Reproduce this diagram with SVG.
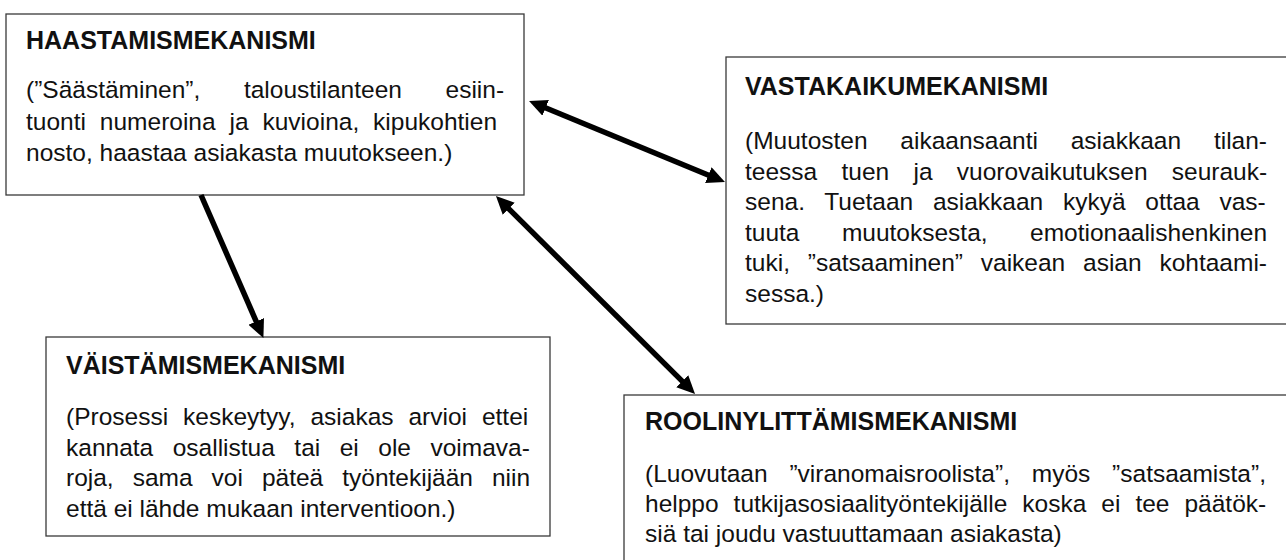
<svg xmlns="http://www.w3.org/2000/svg" width="1286" height="560" viewBox="0 0 1286 560">
<style>
.box{fill:#fff;stroke:#3a3a3a;stroke-width:1.3}
.t{font-family:"Liberation Sans",Arial,sans-serif;font-size:25px;font-weight:bold;fill:#111}
.b{font-family:"Liberation Sans",Arial,sans-serif;font-size:24.5px;fill:#111}
.c{fill:none;stroke:#000;stroke-width:5.5}
</style>
<defs>
<marker id="ah" markerUnits="userSpaceOnUse" markerWidth="18" markerHeight="17" refX="3" refY="8.5" orient="auto-start-reverse">
<path d="M0,0 L18,8.5 L0,17 z" fill="#000"/>
</marker>
</defs>
<rect width="1286" height="560" fill="#fff"/>
<g id="node-haastamis">
<rect class="box" x="6" y="14" width="518" height="181"/>
<text class="t" x="26" y="49">HAASTAMISMEKANISMI</text>
<text class="b" x="26" y="98" word-spacing="36.8">(”Säästäminen”, taloustilanteen esiin-</text>
<text class="b" x="26" y="129.5" word-spacing="7.1">tuonti numeroina ja kuvioina, kipukohtien</text>
<text class="b" x="26" y="161">nosto, haastaa asiakasta muutokseen.)</text>
</g>
<g id="node-vastakaiku">
<rect class="box" x="726" y="57" width="570" height="267"/>
<text class="t" x="745" y="95">VASTAKAIKUMEKANISMI</text>
<text class="b" x="745" y="149" word-spacing="26">(Muutosten aikaansaanti asiakkaan tilan-</text>
<text class="b" x="745" y="179.5" word-spacing="17.5">teessa tuen ja vuorovaikutuksen seurauk-</text>
<text class="b" x="745" y="210" word-spacing="12.9">sena. Tuetaan asiakkaan kykyä ottaa vas-</text>
<text class="b" x="745" y="240.5" word-spacing="35.6">tuuta muutoksesta, emotionaalishenkinen</text>
<text class="b" x="745" y="271" word-spacing="11">tuki, ”satsaaminen” vaikean asian kohtaami-</text>
<text class="b" x="745" y="301.5">sessa.)</text>
</g>
<g id="node-vaistamis">
<rect class="box" x="46" y="337" width="504" height="199"/>
<text class="t" x="66" y="374">VÄISTÄMISMEKANISMI</text>
<text class="b" x="66" y="425" word-spacing="8.1">(Prosessi keskeytyy, asiakas arvioi ettei</text>
<text class="b" x="66" y="455.5" word-spacing="12.7">kannata osallistua tai ei ole voimava-</text>
<text class="b" x="66" y="486" word-spacing="12.2">roja, sama voi päteä työntekijään niin</text>
<text class="b" x="66" y="516.5">että ei lähde mukaan interventioon.)</text>
</g>
<g id="node-roolinylittamis">
<rect class="box" x="624" y="395" width="672" height="175"/>
<text class="t" x="645" y="430">ROOLINYLITTÄMISMEKANISMI</text>
<text class="b" x="645" y="482" word-spacing="15">(Luovutaan ”viranomaisroolista”, myös ”satsaamista”,</text>
<text class="b" x="645" y="512" word-spacing="8.2">helppo tutkijasosiaalityöntekijälle koska ei tee päätök-</text>
<text class="b" x="645" y="542">siä tai joudu vastuuttamaan asiakasta)</text>
</g>
<g id="connectors">
<line class="c" x1="201" y1="195" x2="257.4" y2="324.2" marker-end="url(#ah)"/>
<line class="c" x1="542.9" y1="106.7" x2="711.1" y2="176.3" marker-start="url(#ah)" marker-end="url(#ah)"/>
<line class="c" x1="506.6" y1="206.6" x2="684.4" y2="383.4" marker-start="url(#ah)" marker-end="url(#ah)"/>
</g>
</svg>
